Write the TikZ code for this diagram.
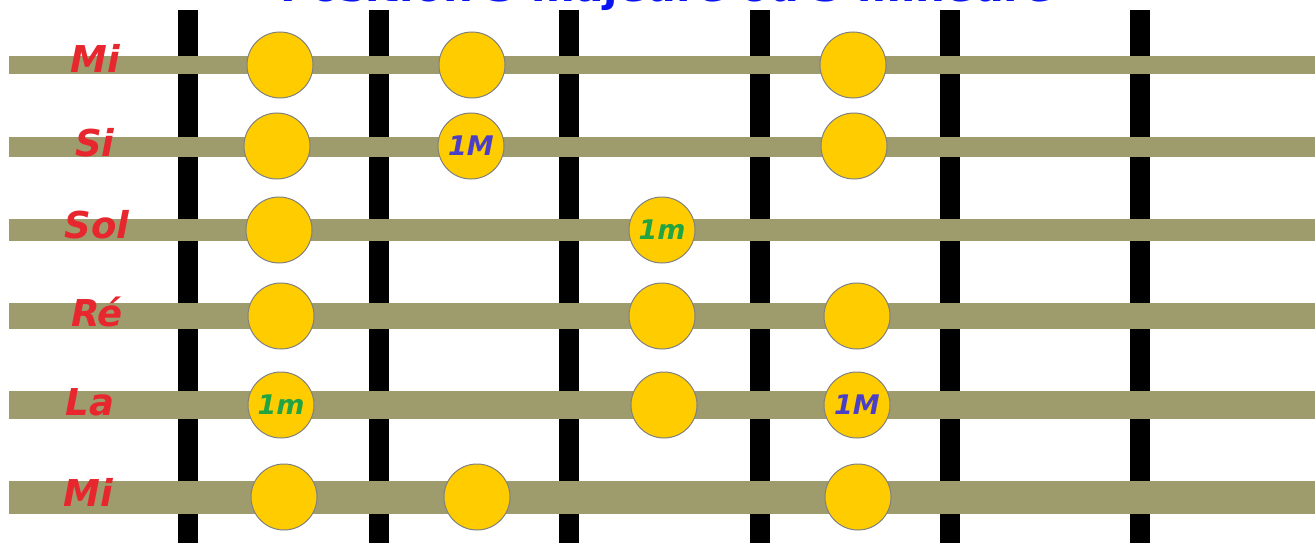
\documentclass[tikz,border=0pt]{standalone}
\usepackage{fontspec}
\setmainfont{DejaVu Sans}
\usepackage{xcolor}
\usetikzlibrary{positioning}
\definecolor{stringolive}{HTML}{9E9B6C}
\definecolor{notegold}{HTML}{FFCC00}
\definecolor{notered}{HTML}{E8262E}
\definecolor{majblue}{HTML}{4B3FC8}
\definecolor{mingreen}{HTML}{22A443}
\definecolor{titleblue}{HTML}{0A14F0}

\tikzset{
  fret/.style={fill=black},
  guitarstring/.style={draw=stringolive},
  note/.style={circle, fill=notegold, draw=gray, line width=1pt,
               minimum size=66pt, inner sep=0pt,
               font=\fontsize{27}{27}\selectfont\bfseries\itshape},
  stringname/.style={text=notered, font=\fontsize{37}{37}\selectfont\bfseries\itshape},
}

\begin{document}
\begin{tikzpicture}[x=1pt, y=-1pt]
    \useasboundingbox (0,0) rectangle (1315,543);
    % title, mostly above the page
    \node[anchor=base, text=titleblue, font=\fontsize{42}{42}\selectfont\bfseries]
      (title) at (667,2) {Position 3 majeure ou 3 mineure};
    % frets
    \foreach \fx in {188,379,569,760,950,1140}
      \fill[fret] (\fx-10,10) rectangle (\fx+10,560);
    % strings and their names
    \foreach \sy/\sw/\lx/\ly/\sname in {65/18/95/58/Mi, 147/20/95/143/Si, 230/22/97/225/Sol,
        316/26/97/312/Ré, 405/28/90/402/La, 497/33/88/492/Mi}{
      \draw[guitarstring, line width=\sw pt] (9,\sy) -- (1315,\sy);
      \node[stringname] (name-\sy) at (\lx,\ly) {\sname};
    }
    % notes
    \foreach \nx/\ny [count=\i] in {280/65, 472/65, 853/65, 277/146, 854/146, 279/230,
        281/316, 662/316, 857/316, 664/405, 284/497, 477/497, 858/497}
      \node[note] (note\i) at (\nx,\ny) {};
    \node[note, text=majblue] (root1M) at (471,146) {1M};
    \node[note, text=mingreen] (root1m) at (662,230) {1m};
    \node[note, text=mingreen] (root1mb) at (281,405) {1m};
    \node[note, text=majblue] (root1Mb) at (857,405) {1M};
\end{tikzpicture}
\end{document}
